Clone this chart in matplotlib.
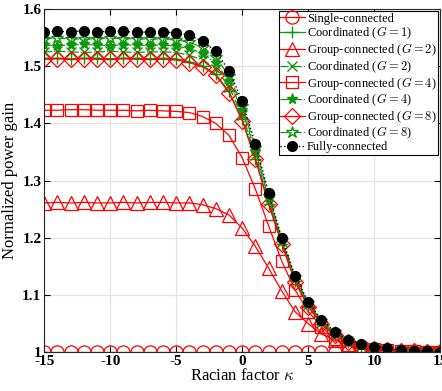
import matplotlib.pyplot as plt
import numpy as np

plt.rcParams['mathtext.fontset'] = 'cm'
plt.rcParams['font.family'] = 'Liberation Serif'

kappa = np.arange(-15, 16)

single = [1.0] * 31

group2 = [1.261, 1.262, 1.261, 1.262, 1.261, 1.261, 1.262, 1.261, 1.262, 1.262, 1.261,
          1.261, 1.258, 1.251, 1.240, 1.217, 1.185, 1.147, 1.107, 1.071, 1.050,
          1.032, 1.021, 1.013, 1.008, 1.005, 1.003, 1.002, 1.002, 1.001, 1.001]

group4 = [1.423, 1.423, 1.424, 1.424, 1.423, 1.423, 1.423, 1.422, 1.423, 1.422, 1.421,
          1.419, 1.412, 1.400, 1.379, 1.340, 1.285, 1.221, 1.159, 1.109, 1.071,
          1.045, 1.024, 1.013, 1.008, 1.005, 1.004, 1.003, 1.002, 1.001, 1.001]

group8 = [1.512, 1.513, 1.512, 1.513, 1.512, 1.512, 1.513, 1.512, 1.512, 1.512, 1.511,
          1.506, 1.499, 1.484, 1.454, 1.405, 1.337, 1.259, 1.189, 1.123, 1.080,
          1.049, 1.030, 1.018, 1.010, 1.006, 1.004, 1.003, 1.002, 1.001, 1.001]

coord1 = [1.514, 1.514, 1.513, 1.514, 1.514, 1.513, 1.514, 1.514, 1.513, 1.514, 1.513,
          1.508, 1.501, 1.486, 1.456, 1.407, 1.338, 1.260, 1.190, 1.124, 1.080,
          1.049, 1.030, 1.018, 1.010, 1.006, 1.004, 1.003, 1.002, 1.001, 1.001]

coord2 = [1.525, 1.526, 1.525, 1.524, 1.525, 1.526, 1.525, 1.524, 1.525, 1.525, 1.524,
          1.519, 1.511, 1.495, 1.464, 1.414, 1.344, 1.264, 1.192, 1.126, 1.082,
          1.051, 1.032, 1.019, 1.011, 1.007, 1.005, 1.003, 1.002, 1.001, 1.001]

coord4 = [1.537, 1.536, 1.537, 1.538, 1.537, 1.536, 1.537, 1.537, 1.536, 1.537, 1.535,
          1.531, 1.522, 1.506, 1.474, 1.423, 1.351, 1.269, 1.194, 1.129, 1.084,
          1.053, 1.033, 1.020, 1.012, 1.008, 1.005, 1.003, 1.002, 1.001, 1.001]

coord8 = [1.548, 1.549, 1.548, 1.547, 1.548, 1.549, 1.548, 1.548, 1.547, 1.548, 1.546,
          1.542, 1.533, 1.516, 1.483, 1.431, 1.357, 1.274, 1.197, 1.131, 1.086,
          1.055, 1.035, 1.021, 1.013, 1.009, 1.006, 1.004, 1.003, 1.002, 1.001]

fully = [1.560, 1.561, 1.560, 1.562, 1.560, 1.561, 1.561, 1.559, 1.560, 1.560, 1.558,
         1.554, 1.544, 1.526, 1.492, 1.439, 1.364, 1.279, 1.199, 1.134, 1.088,
         1.057, 1.036, 1.022, 1.014, 1.010, 1.007, 1.004, 1.003, 1.002, 1.001]

red = '#ff0000'
green = '#0f960f'

fig = plt.figure(figsize=(4.42, 3.91), dpi=100)
ax = fig.add_axes([0.1, 0.099, 0.896, 0.878])

ax.plot(kappa, single, '-o', color=red, mfc='none', ms=9.5, lw=0.9, mew=0.9,
        label='Single-connected')
ax.plot(kappa, coord1, '-+', color=green, ms=9, lw=0.9, mew=1.0,
        label=r'Coordinated ($G=1$)')
ax.plot(kappa, group2, '-^', color=red, mfc='none', ms=9.5, lw=0.9, mew=0.9,
        label=r'Group-connected ($G=2$)')
ax.plot(kappa, coord2, '-.x', color=green, ms=7, lw=0.9, mew=1.0,
        label=r'Coordinated ($G=2$)')
ax.plot(kappa, group4, '-s', color=red, mfc='none', ms=8.5, lw=0.9, mew=0.9,
        label=r'Group-connected ($G=4$)')
ax.plot(kappa, coord4, '-.*', color=green, ms=8, lw=0.9, mew=1.0,
        label=r'Coordinated ($G=4$)')
ax.plot(kappa, group8, '-D', color=red, mfc='none', ms=8, lw=0.9, mew=0.9,
        label=r'Group-connected ($G=8$)')
ax.plot(kappa, coord8, '-.*', color=green, mfc='none', ms=9, lw=0.9, mew=1.0,
        label=r'Coordinated ($G=8$)')
ax.plot(kappa, fully, ':o', color='black', mfc='black', ms=7, lw=1.0,
        label='Fully-connected')

ax.set_xlim(-15, 15)
ax.set_ylim(1.0, 1.6)
ax.set_xticks([-15, -10, -5, 0, 5, 10, 15])
ax.set_xticklabels(['-15', '-10', '-5', '0', '5', '10', '15'])
ax.set_yticks([1.0, 1.1, 1.2, 1.3, 1.4, 1.5, 1.6])
ax.set_yticklabels(['1', '1.1', '1.2', '1.3', '1.4', '1.5', '1.6'])
for t in ax.get_xticklabels() + ax.get_yticklabels():
    t.set_fontweight('bold')
    t.set_fontsize(11)
ax.tick_params(direction='in', top=True, right=True, length=4, width=0.8, pad=2)
ax.grid(True, color='#e3e3e3', lw=0.9)
ax.set_axisbelow(True)
for s in ax.spines.values():
    s.set_linewidth(0.8)
    s.set_color('#262626')

ax.set_xlabel(r'Racian factor $\kappa$', fontsize=12, labelpad=0)
ax.set_ylabel('Normalized power gain', fontsize=12, labelpad=3)

leg = ax.legend(loc='upper right', fontsize=9, frameon=True, fancybox=False,
                edgecolor='black', framealpha=1, borderpad=0.1, labelspacing=0.0,
                handlelength=2.0, handletextpad=0.15, borderaxespad=0.2)
leg.get_frame().set_linewidth(0.8)

fig.savefig('out.png', dpi=100)
